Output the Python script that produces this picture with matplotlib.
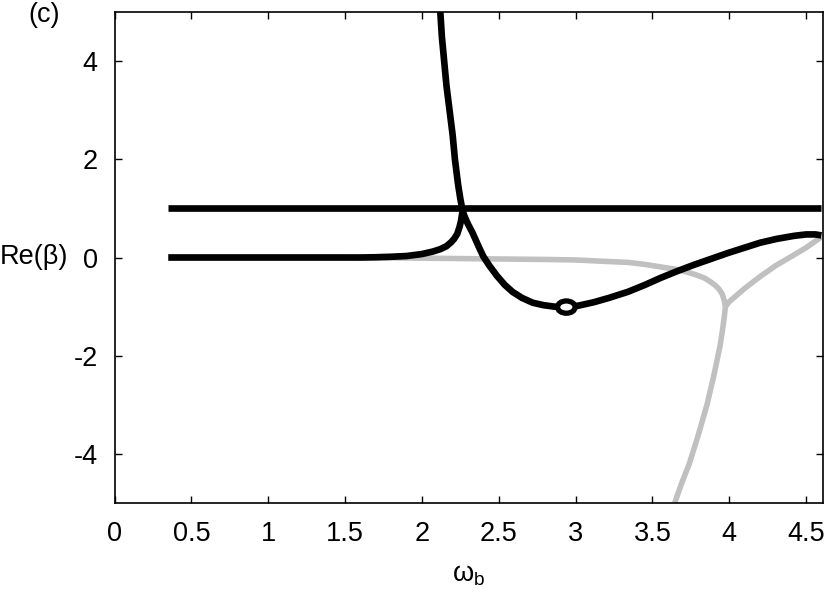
import matplotlib
matplotlib.use("Agg")
import matplotlib.pyplot as plt
from matplotlib.patches import Ellipse

plt.rcParams['font.family'] = ['Liberation Sans', 'DejaVu Sans']
plt.rcParams['mathtext.fontset'] = 'custom'
plt.rcParams['mathtext.rm'] = 'Liberation Sans'
plt.rcParams['mathtext.it'] = 'Liberation Sans'
plt.rcParams['axes.unicode_minus'] = False

# ---- data ----
flat_x = [0.35, 4.6]
flat_y = [1.0, 1.0]

black_low_x = [0.35, 1.0, 1.6, 1.7, 1.8, 1.9, 2.0, 2.07, 2.12, 2.16, 2.19, 2.21,
               2.23, 2.245, 2.255, 2.265]
black_low_y = [0.0, 0.0, 0.0, 0.005, 0.015, 0.03, 0.07, 0.12, 0.17, 0.23, 0.31, 0.38,
               0.48, 0.62, 0.75, 0.95]

black_up_x = [2.12, 2.13, 2.145, 2.16, 2.18, 2.20, 2.215, 2.235, 2.25, 2.265]
black_up_y = [5.0, 4.5, 4.0, 3.5, 3.0, 2.5, 2.0, 1.5, 1.2, 0.95]

black_cx_x = [2.265, 2.28, 2.30, 2.33, 2.37, 2.40, 2.44, 2.49, 2.54, 2.59, 2.65,
              2.72, 2.79, 2.86, 2.94, 3.02, 3.12, 3.22, 3.34, 3.45, 3.55, 3.66,
              3.77, 3.88, 3.99, 4.10, 4.20, 4.31, 4.42, 4.50, 4.56, 4.60]
black_cx_y = [0.95, 0.82, 0.68, 0.50, 0.22, 0.02, -0.17, -0.38, -0.56, -0.70, -0.82,
              -0.92, -0.97, -1.00, -1.01, -0.98, -0.91, -0.82, -0.70, -0.56, -0.42, -0.28,
              -0.15, -0.03, 0.09, 0.20, 0.30, 0.38, 0.44, 0.47, 0.47, 0.45]

loop_x = [2.94]
loop_y = [-1.01]

gray_a_x = [0.35, 1.0, 1.5, 1.9, 2.2, 2.5, 2.8, 3.0, 3.2, 3.34, 3.45, 3.55, 3.65,
            3.73, 3.79, 3.84, 3.88, 3.91, 3.935, 3.955, 3.967, 3.975]
gray_a_y = [0.0, 0.0, 0.0, -0.01, -0.02, -0.03, -0.04, -0.05, -0.08, -0.10, -0.14,
            -0.19, -0.24, -0.30, -0.36, -0.42, -0.50, -0.57, -0.65, -0.75, -0.87, -1.0]

gray_low_x = [3.975, 3.968, 3.955, 3.94, 3.92, 3.90, 3.855, 3.80, 3.74, 3.69, 3.645]
gray_low_y = [-1.0, -1.2, -1.5, -1.8, -2.1, -2.4, -3.0, -3.6, -4.2, -4.6, -5.0]

gray_r_x = [3.975, 4.0, 4.1, 4.2, 4.3, 4.42, 4.5, 4.6]
gray_r_y = [-1.0, -0.9, -0.63, -0.39, -0.17, 0.05, 0.2, 0.42]

xticks = [0, 0.5, 1, 1.5, 2, 2.5, 3, 3.5, 4, 4.5]
xticklabels = ["0", "0.5", "1", "1.5", "2", "2.5", "3", "3.5", "4", "4.5"]
yticks = [-4, -2, 0, 2, 4]
yticklabels = ["-4", "-2", "0", "2", "4"]

# ---- figure ----
fig = plt.figure(figsize=(8.3, 5.93), dpi=100)
ax = fig.add_axes([114.5 / 830, 90 / 593, (823 - 114.5) / 830, (503 - 12) / 593])

gray = "#c0c0c0"
lwb = 4.8
lwg = 4.0
fs = 19.5
kw = dict(solid_capstyle='butt', solid_joinstyle='round')
ax.plot(gray_a_x, gray_a_y, color=gray, lw=lwg, zorder=2, **kw)
ax.plot(gray_low_x, gray_low_y, color=gray, lw=lwg, zorder=2, **kw)
ax.plot(gray_r_x, gray_r_y, color=gray, lw=lwg, zorder=2, **kw)

ax.plot(flat_x, flat_y, color='black', lw=lwb, zorder=3, **kw)
ax.plot(black_low_x, black_low_y, color='black', lw=lwb, zorder=3, **kw)
ax.plot(black_up_x, black_up_y, color='black', lw=lwb, zorder=3, **kw)
ax.plot(black_cx_x, black_cx_y, color='black', lw=lwb, zorder=3, **kw)
for lx, ly in zip(loop_x, loop_y):
    ax.add_patch(Ellipse((lx, ly), 0.115, 0.25, facecolor='white', edgecolor='black',
                         lw=3.8, zorder=4))

ax.set_xlim(0, 4.61)
ax.set_ylim(-5, 5)
ax.set_xticks(xticks)
ax.set_xticklabels(xticklabels)
ax.set_yticks(yticks)
ax.set_yticklabels(yticklabels)
ax.tick_params(direction='in', length=5, width=1, top=True, right=True,
               labelsize=fs, colors='black')
ax.tick_params(axis='x', pad=13)
ax.tick_params(axis='y', pad=12)
for s in ax.spines.values():
    s.set_linewidth(1.2)

ax.set_xlabel(r'$\mathregular{\omega_b}$', fontsize=fs, va='center')
ax.xaxis.set_label_coords(0.5, -(575 - 503) / 491)
ax.set_ylabel('Re(β)', fontsize=fs, rotation=0, ha='left', va='center')
ax.yaxis.set_label_coords(-114.5 / 708.5, 0.5)

fig.text(44 / 830, 1 - 15 / 593, '(c)', fontsize=fs, ha='center', va='center')

fig.savefig('out.png', dpi=100)
